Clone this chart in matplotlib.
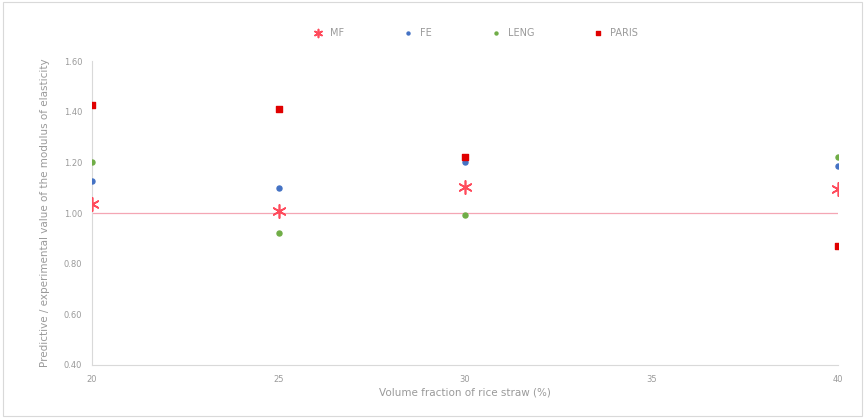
import matplotlib
matplotlib.use('Agg')
import matplotlib.pyplot as plt

# values
x_vals = [20, 25, 30, 40]
mf    = [1.035, 1.008, 1.103, 1.095]
fe    = [1.126, 1.098, 1.200, 1.186]
leng  = [1.200, 0.921, 0.992, 1.221]
paris = [1.426, 1.410, 1.221, 0.870]
x_ticks = [20, 25, 30, 35, 40]
y_ticks = [0.40, 0.60, 0.80, 1.00, 1.20, 1.40, 1.60]

text_color = '#9a9a9a'
fig = plt.figure(figsize=(8.65, 4.18), dpi=100)
ax = fig.add_axes([0.1064, 0.1268, 0.8624, 0.7272])

ax.plot([20, 40], [1.0, 1.0], color='#f4a6b4', lw=0.9, zorder=1)
ax.scatter(x_vals, mf, marker=(6, 2, 0), s=90, color='#ff4b5c', lw=1.2, label='MF', zorder=3)
ax.scatter(x_vals, fe, marker='o', s=13, color='#4472c4', label='FE', zorder=3)
ax.scatter(x_vals, leng, marker='o', s=13, color='#70ad47', label='LENG', zorder=3)
ax.scatter(x_vals, paris, marker='s', s=13, color='#e00000', label='PARIS', zorder=3)

ax.set_xlim(20, 40)
ax.set_ylim(0.40, 1.60)
ax.set_xticks(x_ticks)
ax.set_yticks(y_ticks)
ax.set_yticklabels([f'{v:.2f}' for v in y_ticks])
ax.tick_params(length=0, labelsize=6, colors=text_color, pad=7)
for side in ['top', 'right']:
  ax.spines[side].set_visible(False)
ax.spines['left'].set_color('#d9d9d9')
ax.spines['bottom'].set_color('#d9d9d9')
ax.set_xlabel('Volume fraction of rice straw (%)', fontsize=7.5, color=text_color, labelpad=3)
ax.set_ylabel('Predictive / experimental value of the modulus of elasticity', fontsize=7.5, color=text_color, labelpad=10)

fig.legend(loc='center', bbox_to_anchor=(0.547, 0.921), ncol=4, frameon=False, fontsize=7,
           labelcolor=text_color, columnspacing=5.6, handletextpad=0.2, markerscale=0.6)

border = plt.Rectangle((0.004, 0.005), 0.992, 0.99, transform=fig.transFigure, fill=False, edgecolor='#d9d9d9', lw=0.8)
fig.patches.append(border)

fig.savefig('out.png', dpi=100)
